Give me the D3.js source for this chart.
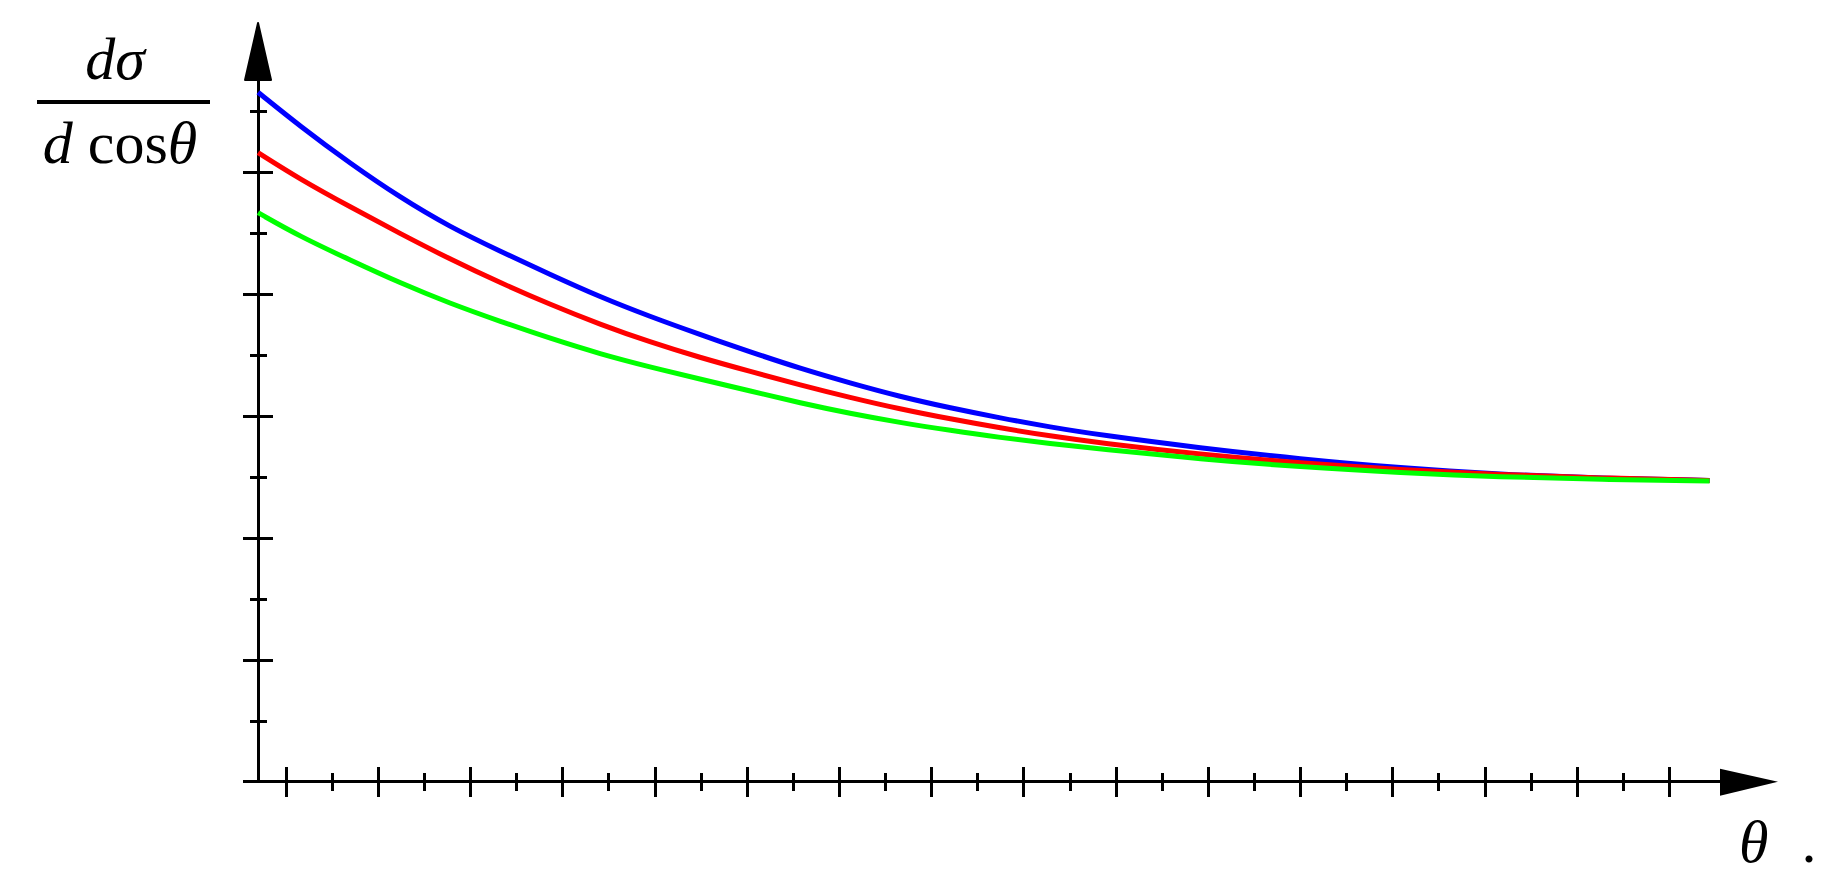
<html>
<head>
<meta charset="utf-8">
<script src="https://d3js.org/d3.v7.min.js"></script>
<style>
  body { margin: 0; background: #fff; }
  svg { display: block; }
  .lbl { font-family: "Liberation Serif", "Times New Roman", serif; font-size: 60px; fill: #000; }
  .ax line { shape-rendering: crispEdges; }
</style>
</head>
<body>
<svg id="chart" width="1822" height="895"></svg>
<script>
// theta positions where the curves were read (major ticks sit at 1..16)
var theta = [0.70, 1.16, 1.70, 2.24, 2.78, 3.33, 3.87, 4.41, 4.95, 5.49, 6.04, 6.58,
             7.12, 7.66, 8.21, 8.75, 9.29, 9.83, 10.92, 12.00, 13.09, 14.17, 15.26, 16.44];

var blue  = [5.651, 5.370, 5.067, 4.789, 4.547, 4.346, 4.157, 3.973, 3.813, 3.666, 3.522, 3.387,
             3.268, 3.157, 3.063, 2.981, 2.907, 2.842, 2.735, 2.645, 2.571, 2.520, 2.487, 2.469];
var red   = [5.156, 4.936, 4.711, 4.493, 4.284, 4.088, 3.911, 3.748, 3.604, 3.477, 3.362, 3.252,
             3.149, 3.055, 2.973, 2.899, 2.834, 2.776, 2.682, 2.612, 2.557, 2.517, 2.489, 2.469];
var green = [4.664, 4.467, 4.276, 4.088, 3.921, 3.772, 3.633, 3.506, 3.399, 3.301, 3.202, 3.104,
             3.018, 2.944, 2.879, 2.821, 2.772, 2.727, 2.645, 2.580, 2.533, 2.498, 2.477, 2.465];

var xMajor = d3.range(1, 17);            // 1 .. 16
var xMinor = d3.range(1.5, 16, 1);       // 1.5 .. 15.5
var yMajor = [1, 2, 3, 4, 5];
var yMinor = [0.5, 1.5, 2.5, 3.5, 4.5, 5.5];

var svg = d3.select("#chart");

var x = d3.scaleLinear().domain([1, 16]).range([285.7, 1669]);
var y = d3.scaleLinear().domain([0, 5]).range([781.7, 171.7]);

var x0 = x(0.7), y0 = y(0);

var ax = svg.append("g").attr("class", "ax");

// axis lines
ax.append("line").attr("x1", 243).attr("x2", 1722).attr("y1", y0).attr("y2", y0)
  .attr("stroke", "#000").attr("stroke-width", 3);
ax.append("line").attr("x1", x0).attr("x2", x0).attr("y1", y0 + 1.5).attr("y2", 78)
  .attr("stroke", "#000").attr("stroke-width", 3);

// arrow heads
svg.append("path").attr("d", "M1720," + (y0 - 13) + "L1778," + y0 + "L1720," + (y0 + 14) + "Z")
  .attr("fill", "#000");
svg.append("path").attr("d", "M" + (x0 - 13) + ",80L" + x0 + ",23L" + (x0 + 13) + ",80Z")
  .attr("fill", "#000").attr("stroke", "#000").attr("stroke-width", 2).attr("stroke-linejoin", "round");

// x ticks
var xAxis = ax.append("g").attr("transform", "translate(0," + y0 + ")");
xAxis.call(d3.axisBottom(x).tickValues(xMajor).tickSize(0).tickFormat(""));
xAxis.select(".domain").remove();
xAxis.selectAll(".tick line").attr("y1", -15).attr("y2", 15)
  .attr("stroke", "#000").attr("stroke-width", 3);
var xAxis2 = ax.append("g").attr("transform", "translate(0," + y0 + ")");
xAxis2.call(d3.axisBottom(x).tickValues(xMinor).tickSize(0).tickFormat(""));
xAxis2.select(".domain").remove();
xAxis2.selectAll(".tick line").attr("y1", -9).attr("y2", 9)
  .attr("stroke", "#000").attr("stroke-width", 3);

// y ticks
var yAxis = ax.append("g").attr("transform", "translate(" + x0 + ",0)");
yAxis.call(d3.axisLeft(y).tickValues(yMajor).tickSize(0).tickFormat(""));
yAxis.select(".domain").remove();
yAxis.selectAll(".tick line").attr("x1", -15).attr("x2", 15)
  .attr("stroke", "#000").attr("stroke-width", 3);
var yAxis2 = ax.append("g").attr("transform", "translate(" + x0 + ",0)");
yAxis2.call(d3.axisLeft(y).tickValues(yMinor).tickSize(0).tickFormat(""));
yAxis2.select(".domain").remove();
yAxis2.selectAll(".tick line").attr("x1", -8.5).attr("x2", 8.5)
  .attr("stroke", "#000").attr("stroke-width", 3);

// curves
var line = d3.line()
  .x(function(d) { return x(d[0]); })
  .y(function(d) { return y(d[1]); })
  .curve(d3.curveBasis);

var series = [[blue, "#0000ff"], [red, "#ff0000"], [green, "#00ff00"]];
series.forEach(function(s) {
  svg.append("path")
    .datum(theta.map(function(t, i) { return [t, s[0][i]]; }))
    .attr("d", line)
    .attr("fill", "none")
    .attr("stroke", s[1])
    .attr("stroke-width", 5);
});

// y label: d sigma / d cos theta
var num = svg.append("text").attr("class", "lbl").attr("x", 115).attr("y", 79).attr("text-anchor", "middle");
num.append("tspan").attr("font-style", "italic").text("dσ");
svg.append("line").attr("x1", 37).attr("x2", 210).attr("y1", 102).attr("y2", 102)
  .attr("stroke", "#000").attr("stroke-width", 4);
var den = svg.append("text").attr("class", "lbl").attr("x", 120).attr("y", 163).attr("text-anchor", "middle");
den.append("tspan").attr("font-style", "italic").text("d");
den.append("tspan").text(" cos");
den.append("tspan").attr("font-style", "italic").text("θ");

// x label
svg.append("text").attr("class", "lbl").attr("x", 1739).attr("y", 862)
  .attr("font-style", "italic").text("θ");
svg.append("text").attr("class", "lbl").attr("x", 1809).attr("y", 862)
  .attr("text-anchor", "middle").text(".");
</script>
</body>
</html>
